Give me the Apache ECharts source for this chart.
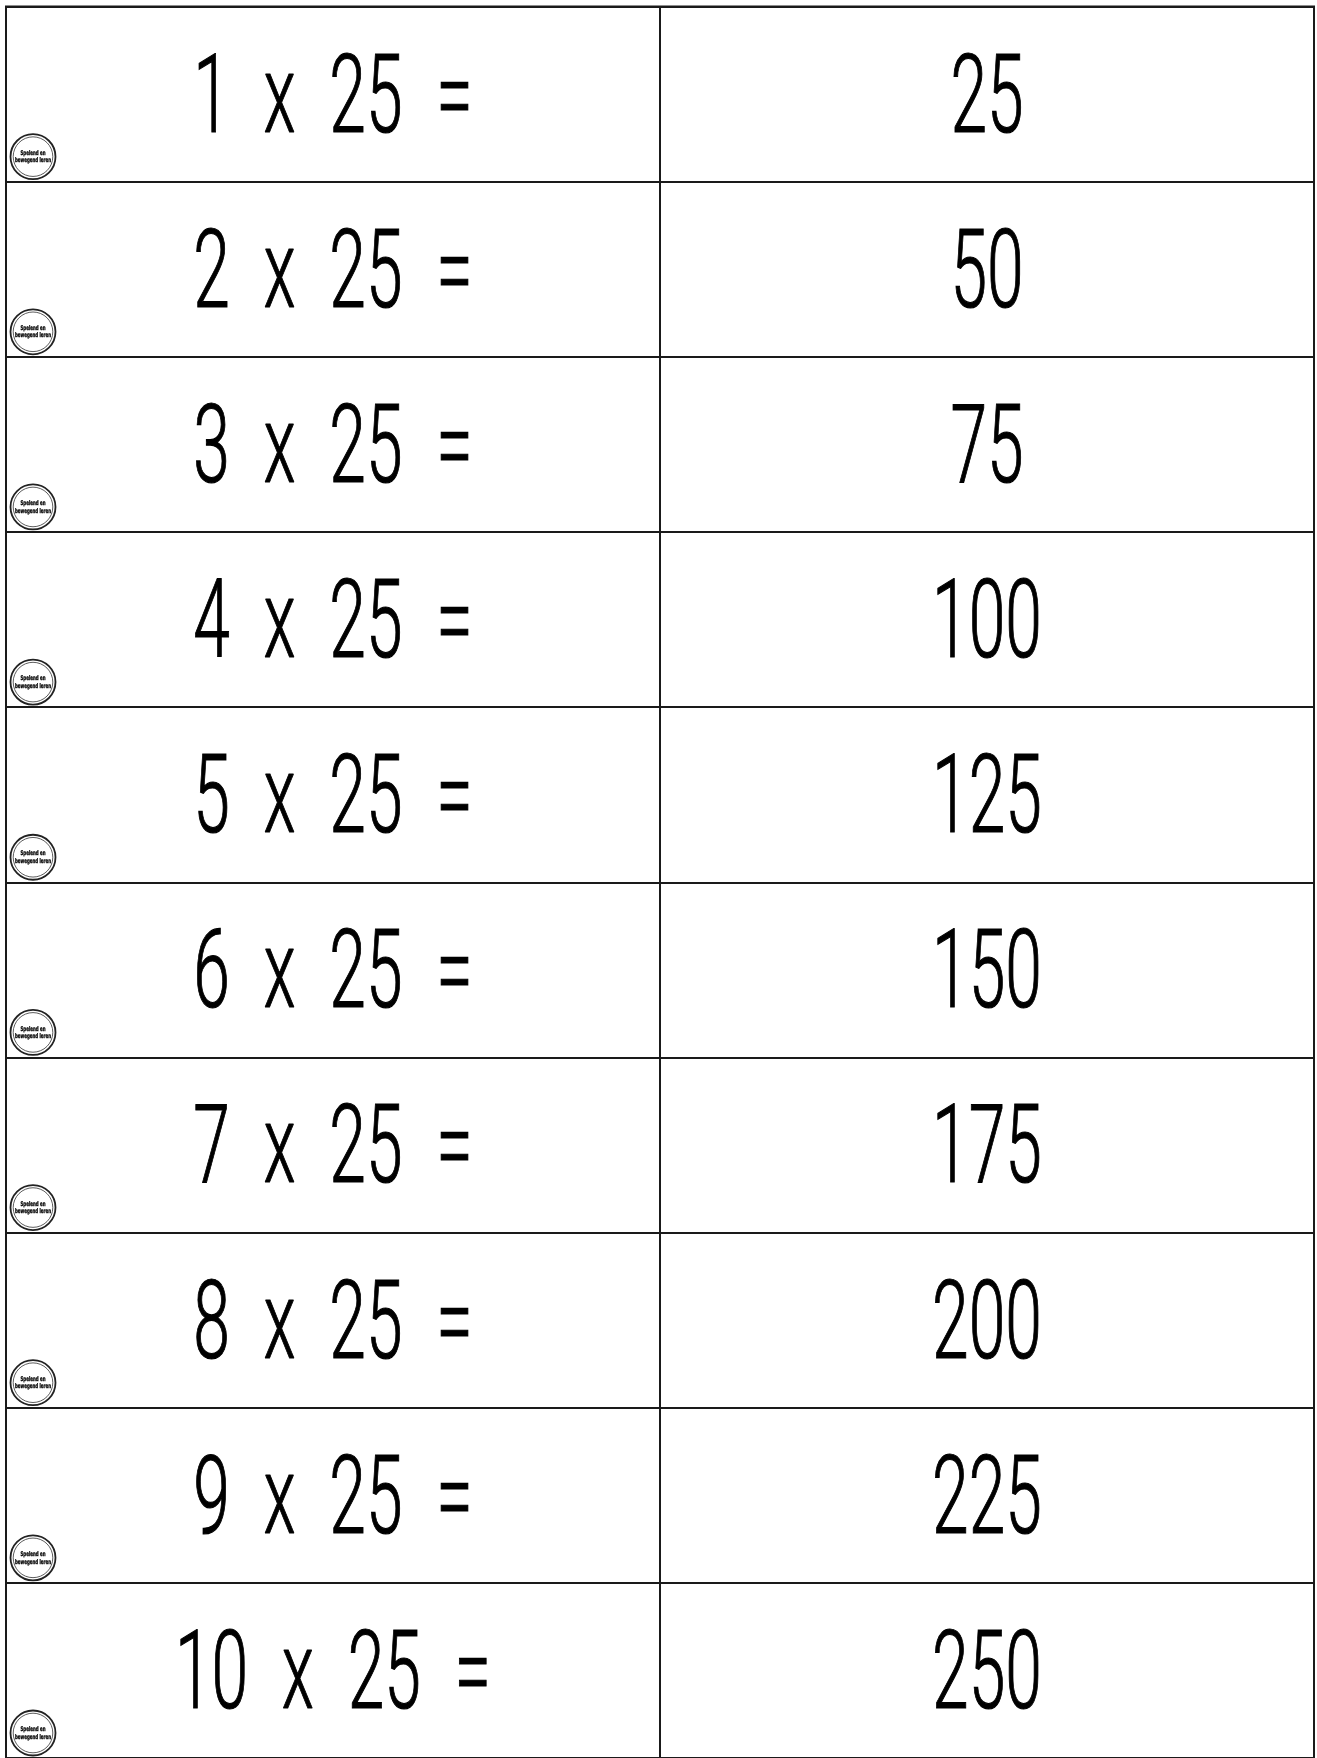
<!DOCTYPE html>
<html>
<head>
<meta charset="utf-8">
<title>25 x tafel</title>
<script src="https://cdn.jsdelivr.net/npm/echarts@6/dist/echarts.min.js"></script>
<style>
  html, body { margin: 0; padding: 0; background: #fff; }
  #main { width: 1317px; height: 1758px; }
</style>
</head>
<body>
<div id="main"></div>
<script>
// tafel van 25
const factors = [1, 2, 3, 4, 5, 6, 7, 8, 9, 10];
const multiplier = 25;
const products = [25, 50, 75, 100, 125, 150, 175, 200, 225, 250];
const columns = ['som', 'antwoord'];
const rowLabels = factors.map(f => String(f));
const logoLines = ['Spelend en', 'bewegend leren'];

// cellen: [kolom, rij, tekst]
const cells = [];
factors.forEach((f, i) => {
  cells.push([0, i, f + ' x ' + multiplier + ' =']);
  cells.push([1, i, String(products[i])]);
});

const SPACE = '\u2002';

function renderCell(params, api) {
  const col = api.value(0);
  const row = api.value(1);
  const center = api.coord([col, row]);
  const size = api.size([1, 1]);
  const text = cells[params.dataIndex][2].split(' ').join(SPACE);
  const children = [{
    type: 'text',
    x: center[0],
    y: center[1] + 10,
    scaleX: 0.6,
    style: {
      text: text,
      fontSize: 110,
      fontWeight: 300,
      fontFamily: 'Roboto, "Liberation Sans", sans-serif',
      fill: '#000',
      stroke: '#000',
      lineWidth: 1.2,
      align: 'center',
      verticalAlign: 'middle'
    }
  }];
  if (col === 0) {
    // klein logo linksonder in de cel
    const cx = center[0] - size[0] / 2 + 27;
    const cy = center[1] + size[1] / 2 - 25;
    children.push({
      type: 'circle',
      shape: { cx: cx, cy: cy, r: 22.5 },
      style: { fill: '#fff', stroke: '#222', lineWidth: 1.8 }
    });
    children.push({
      type: 'circle',
      shape: { cx: cx, cy: cy, r: 19.8 },
      style: { fill: 'none', stroke: '#333', lineWidth: 0.8 }
    });
    logoLines.forEach((t, k) => {
      children.push({
        type: 'text',
        x: cx,
        y: cy - 3.5 + k * 7.5,
        scaleX: 0.68,
        style: {
          text: t,
          fontSize: 6.5,
          fontWeight: 'bold',
          fontFamily: '"Liberation Sans Narrow", "DejaVu Sans Condensed", sans-serif',
          fill: '#000',
          stroke: '#000',
          lineWidth: 0.3,
          align: 'center',
          verticalAlign: 'middle'
        }
      });
    });
  }
  return { type: 'group', children: children };
}

const option = {
  animation: false,
  backgroundColor: '#fff',
  grid: {
    left: 6,
    top: 6.5,
    width: 1308,
    height: 1754,
    show: true,
    borderColor: '#1a1a1a',
    borderWidth: 2
  },
  xAxis: {
    type: 'category',
    data: columns,
    boundaryGap: true,
    axisLine: { show: false },
    axisTick: { show: false },
    axisLabel: { show: false },
    splitLine: { show: true, lineStyle: { color: '#1a1a1a', width: 2 } }
  },
  yAxis: {
    type: 'category',
    data: rowLabels,
    inverse: true,
    boundaryGap: true,
    axisLine: { show: false },
    axisTick: { show: false },
    axisLabel: { show: false },
    splitLine: { show: true, lineStyle: { color: '#1a1a1a', width: 2 } }
  },
  series: [{
    type: 'custom',
    renderItem: renderCell,
    data: cells.map(c => [c[0], c[1]]),
    silent: true
  }]
};

const myChart = echarts.init(document.getElementById('main'), null, { renderer: 'canvas' });
myChart.setOption(option);
</script>
</body>
</html>
